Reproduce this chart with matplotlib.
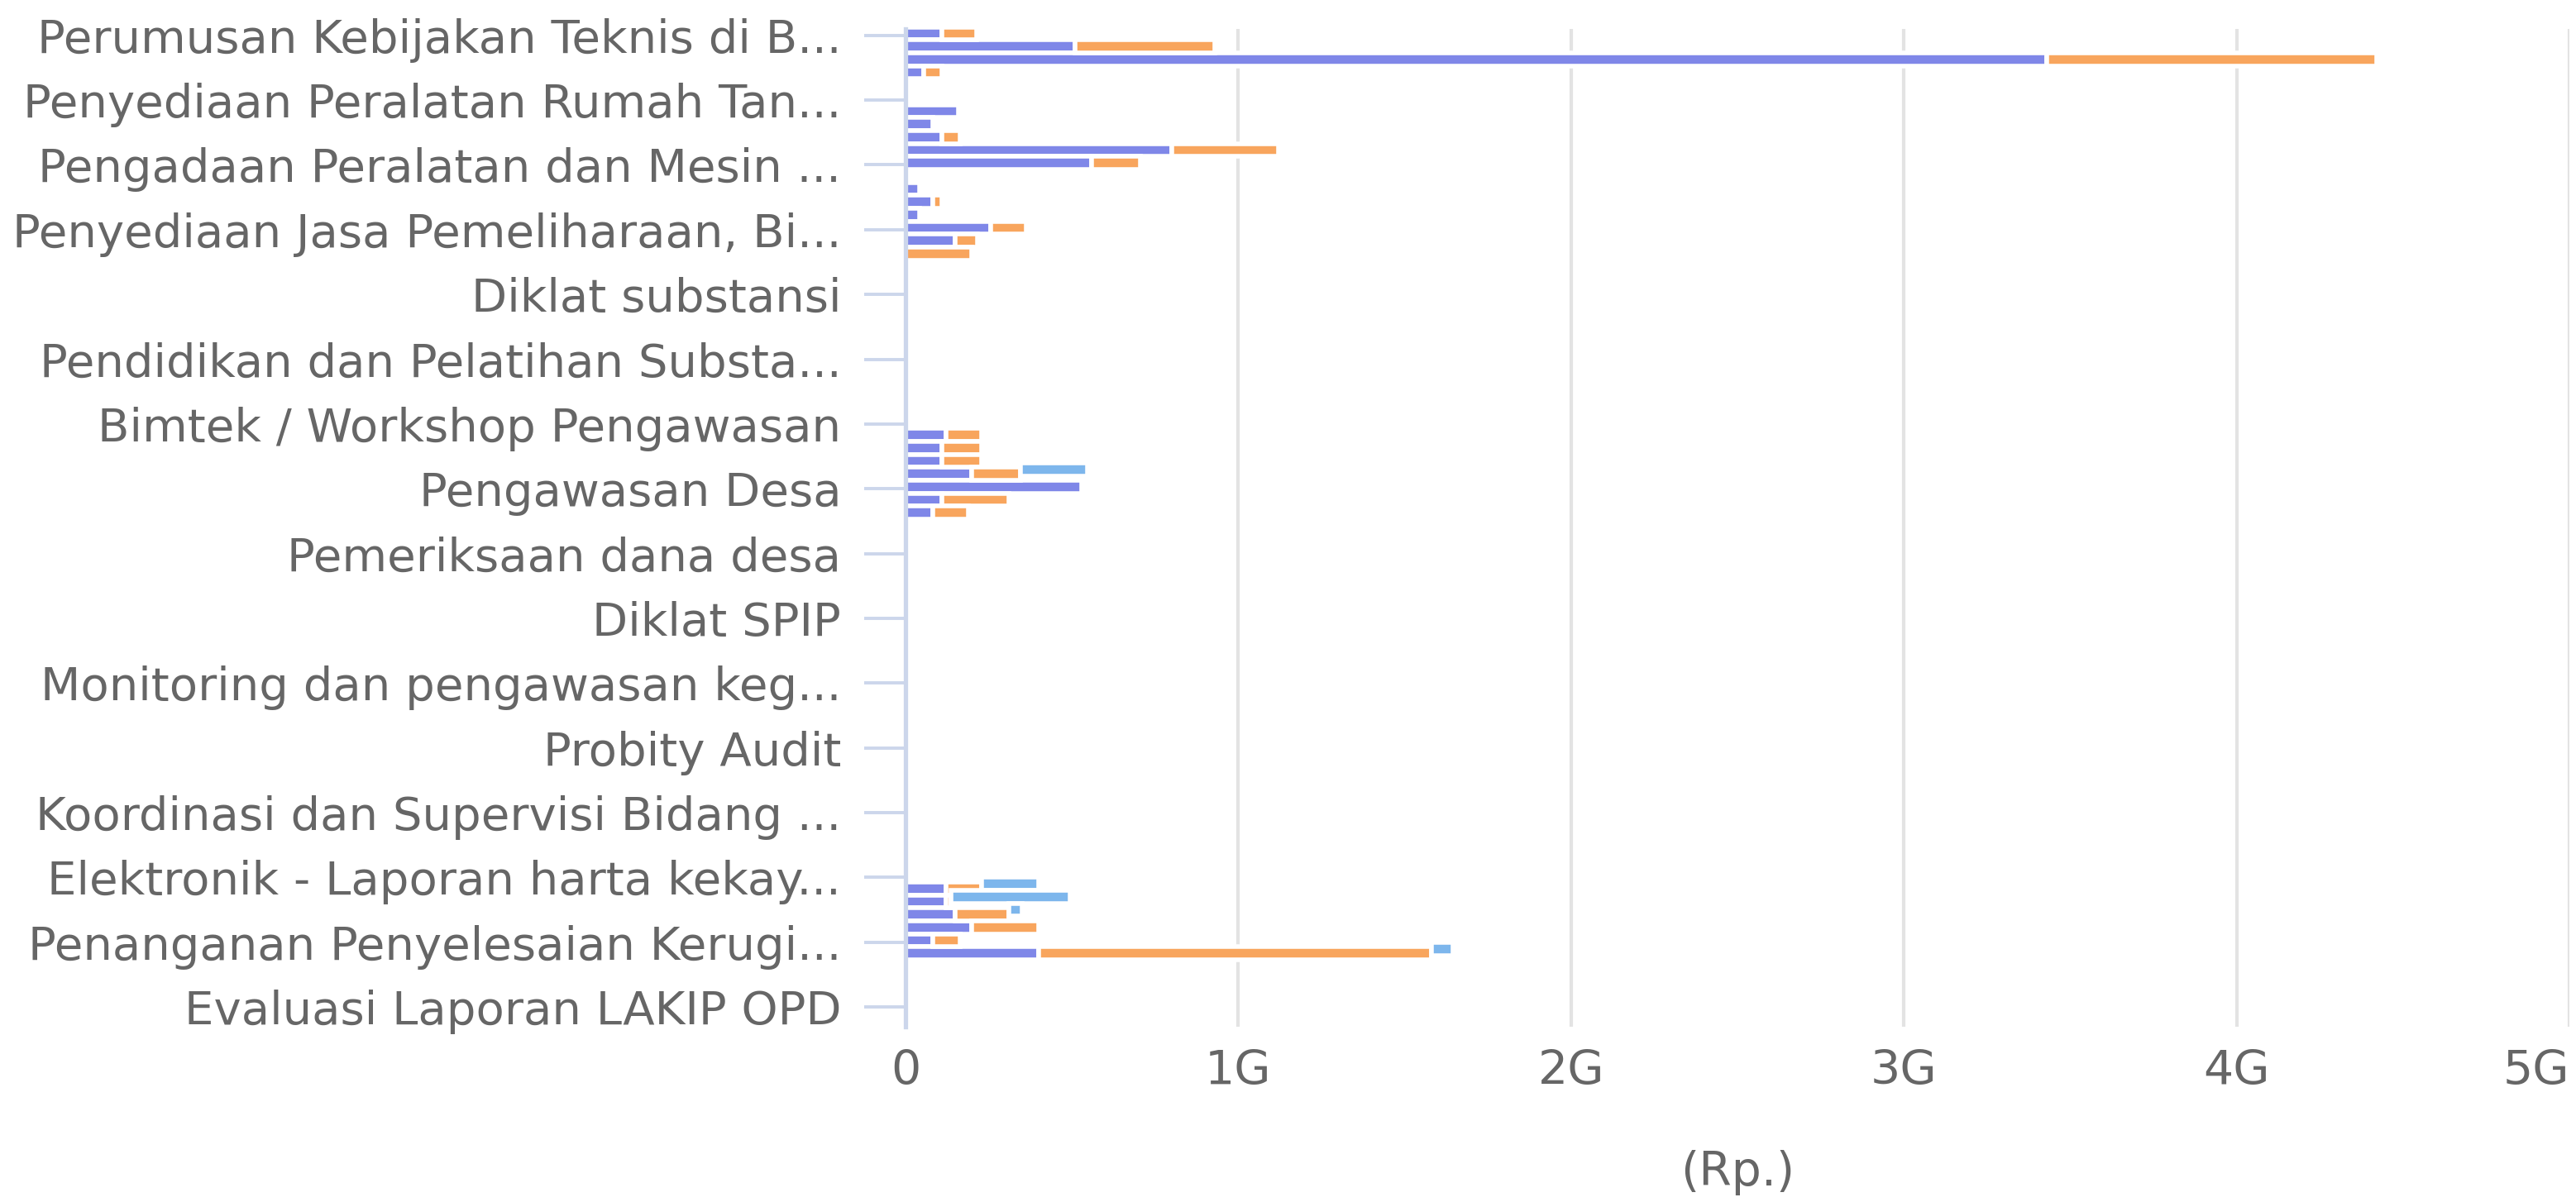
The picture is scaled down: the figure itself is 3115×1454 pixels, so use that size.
import numpy as np
import matplotlib
matplotlib.use('Agg')
import matplotlib.pyplot as plt

# Labels shown on the y axis (every 5th category is labelled)
shown_labels = [
    'Perumusan Kebijakan Teknis di B...',
    'Penyediaan Peralatan Rumah Tan...',
    'Pengadaan Peralatan dan Mesin ...',
    'Penyediaan Jasa Pemeliharaan, Bi...',
    'Diklat substansi',
    'Pendidikan dan Pelatihan Substa...',
    'Bimtek / Workshop Pengawasan',
    'Pengawasan Desa',
    'Pemeriksaan dana desa',
    'Diklat SPIP',
    'Monitoring dan pengawasan keg...',
    'Probity Audit',
    'Koordinasi dan Supervisi Bidang ...',
    'Elektronik - Laporan harta kekay...',
    'Penanganan Penyelesaian Kerugi...',
    'Evaluasi Laporan LAKIP OPD',
]
n_categories = 77
label_step = 5

# values in G (milyar Rp), one entry per category
purple = [
    0.11, 0.51, 3.43, 0.056, 0, 0, 0.16, 0.083, 0.11, 0.80,
    0.56, 0, 0.043, 0.083, 0.043, 0.255, 0.15, 0, 0, 0,
    0, 0, 0, 0, 0, 0, 0, 0, 0, 0,
    0, 0.123, 0.11, 0.11, 0.20, 0.53, 0.11, 0.083, 0, 0,
    0, 0, 0, 0, 0, 0, 0, 0, 0, 0,
    0, 0, 0, 0, 0, 0, 0, 0, 0, 0,
    0, 0, 0, 0, 0, 0, 0.123, 0.123, 0.15, 0.20,
    0.083, 0.40, 0, 0, 0, 0, 0,
]
orange = [
    0.105, 0.42, 0.99, 0.054, 0, 0, 0, 0, 0.053, 0.32,
    0.145, 0, 0, 0.026, 0, 0.107, 0.067, 0.20, 0, 0,
    0, 0, 0, 0, 0, 0, 0, 0, 0, 0,
    0, 0.106, 0.12, 0.12, 0.146, 0, 0.20, 0.106, 0, 0,
    0, 0, 0, 0, 0, 0, 0, 0, 0, 0,
    0, 0, 0, 0, 0, 0, 0, 0, 0, 0,
    0, 0, 0, 0, 0, 0, 0.106, 0.013, 0.16, 0.20,
    0.08, 1.18, 0, 0, 0, 0, 0,
]
blue = [
    0, 0, 0, 0, 0, 0, 0, 0, 0, 0,
    0, 0, 0, 0, 0, 0, 0, 0, 0, 0,
    0, 0, 0, 0, 0, 0, 0, 0, 0, 0,
    0, 0, 0, 0, 0.20, 0, 0, 0, 0, 0,
    0, 0, 0, 0, 0, 0, 0, 0, 0, 0,
    0, 0, 0, 0, 0, 0, 0, 0, 0, 0,
    0, 0, 0, 0, 0, 0, 0.172, 0.358, 0.04, 0,
    0, 0.066, 0, 0, 0, 0, 0,
]
x_ticks = [0, 1, 2, 3, 4, 5]
x_tick_labels = ['0', '1G', '2G', '3G', '4G', '5G']

text_color = '#666666'
axis_color = '#ccd6eb'
plt.rcParams['font.family'] = ['DejaVu Sans']

fig = plt.figure(figsize=(15.575, 7.27), dpi=200)
ax = fig.add_axes([0.3515, 0.146, 0.9974 - 0.3515, 0.976 - 0.146])

y = np.arange(n_categories)
p = np.array(purple)
o = np.array(orange)
b = np.array(blue)

# stacked bars, white border gives the gaps between pieces
def draw(vals, left, color, shift):
    m = vals > 0
    ax.barh(y[m] + shift, vals[m], left=left[m], height=1.0, color=color,
            edgecolor='white', linewidth=2.0, zorder=2)

draw(p, np.zeros(n_categories), '#7f87e8', -0.15)
draw(o, p, '#f8a55d', -0.15)
draw(b, p + o, '#7db6ec', -0.5)

ax.set_ylim(n_categories - 0.5, -0.5)
ax.set_xlim(0, 5)

tick_pos = np.arange(0, n_categories, label_step)
ax.set_yticks(tick_pos)
ax.set_yticklabels(shown_labels, fontsize=20.2, color=text_color)
ax.tick_params(axis='y', length=18, width=1.4, color=axis_color, pad=10)

ax.set_xticks(x_ticks)
ax.set_xticklabels(x_tick_labels, fontsize=20.5, color=text_color)
ax.tick_params(axis='x', length=0, pad=10)
# keep the last label inside the figure
ax.get_xticklabels()[-1].set_horizontalalignment('right')
ax.set_xlabel('(Rp.)', fontsize=20.5, color=text_color, labelpad=24)

ax.set_axisbelow(True)
ax.xaxis.grid(True, color='#e3e3e3', linewidth=1.5)
for s in ['top', 'right', 'bottom']:
    ax.spines[s].set_visible(False)
ax.spines['left'].set_color(axis_color)
ax.spines['left'].set_linewidth(1.9)
ax.spines['left'].set_zorder(3)

plt.savefig('out.png', dpi=200)
